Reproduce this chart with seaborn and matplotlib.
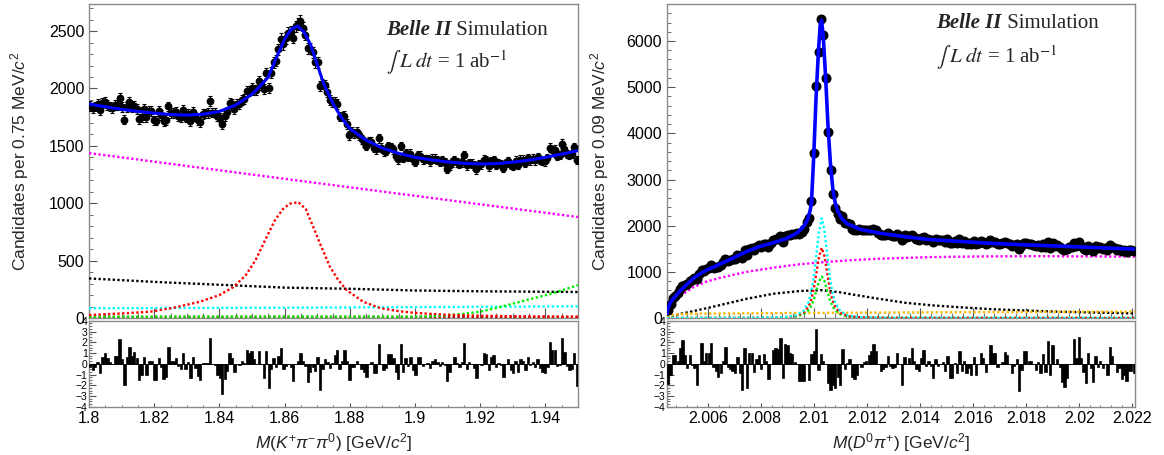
import numpy as np
import seaborn as sns
import matplotlib.pyplot as plt
from matplotlib.ticker import MultipleLocator, FuncFormatter

sns.set_style("ticks")
plt.rcParams["font.family"] = ["Liberation Sans", "DejaVu Sans"]
plt.rcParams["mathtext.fontset"] = "custom"
plt.rcParams["mathtext.rm"] = "Liberation Sans"
plt.rcParams["mathtext.it"] = "Liberation Sans:italic"
plt.rcParams["mathtext.bf"] = "Liberation Sans:bold"

# ---------------- left: M(K+ pi- pi0), 200 bins of 0.75 MeV ----------------
left_range = (1.80, 1.95)
left_counts = [
    1850, 1833, 1843, 1861, 1809, 1870, 1883, 1858, 1843, 1831,
    1857, 1854, 1920, 1835, 1729, 1838, 1878, 1837, 1851, 1823,
    1735, 1754, 1820, 1749, 1803, 1801, 1721, 1719, 1803, 1767,
    1718, 1725, 1843, 1786, 1785, 1792, 1761, 1748, 1810, 1747,
    1777, 1714, 1795, 1755, 1727, 1710, 1779, 1782, 1786, 1887,
    1790, 1790, 1756, 1746, 1691, 1758, 1796, 1877, 1864, 1817,
    1861, 1868, 1900, 1906, 1974, 1976, 2001, 1984, 1986, 2063,
    2031, 1995, 2133, 2004, 2138, 2227, 2242, 2343, 2434, 2387,
    2439, 2486, 2496, 2442, 2540, 2559, 2586, 2525, 2470, 2349,
    2348, 2316, 2227, 2227, 2020, 2039, 2032, 1970, 1900, 1882,
    1878, 1864, 1755, 1755, 1764, 1692, 1593, 1625, 1611, 1620,
    1592, 1557, 1530, 1501, 1538, 1535, 1482, 1471, 1566, 1485,
    1454, 1455, 1497, 1490, 1469, 1413, 1383, 1499, 1395, 1439,
    1407, 1433, 1382, 1363, 1418, 1415, 1383, 1386, 1387, 1365,
    1388, 1389, 1378, 1361, 1373, 1359, 1301, 1329, 1357, 1377,
    1357, 1340, 1357, 1418, 1329, 1353, 1345, 1329, 1295, 1342,
    1338, 1379, 1376, 1321, 1366, 1373, 1334, 1350, 1344, 1306,
    1352, 1369, 1334, 1325, 1372, 1334, 1381, 1380, 1349, 1396,
    1373, 1388, 1373, 1403, 1377, 1366, 1365, 1393, 1483, 1461,
    1465, 1412, 1420, 1520, 1475, 1430, 1419, 1428, 1490, 1376,
]
left_pulls = [
    -0.3, -0.6, -0.3, 0.2, -0.9, 0.6, 1.0, 0.5, 0.2, 0.0,
    0.7, 0.7, 2.3, 0.4, -2.0, 0.6, 1.6, 0.7, 1.1, 0.5,
    -1.5, -1.0, 0.6, -1.0, 0.3, 0.3, -1.5, -1.5, 0.5, -0.3,
    -1.4, -1.2, 1.6, 0.3, 0.3, 0.5, -0.2, -0.5, 1.0, -0.5,
    0.2, -1.3, 0.6, -0.4, -1.1, -1.5, 0.1, 0.1, 0.1, 2.4,
    0.0, -0.1, -1.0, -1.3, -2.8, -1.4, -0.7, 1.0, 0.5, -0.8,
    0.0, -0.1, 0.3, 0.1, 1.3, 1.0, 1.2, 0.4, 0.0, 1.2,
    0.0, -1.3, 1.2, -2.3, -0.5, 0.5, -0.3, 0.7, 1.5, -0.5,
    -0.2, 0.0, -0.3, -1.6, 0.0, 0.3, 1.0, 0.3, -0.2, -1.7,
    -0.8, -0.3, -0.7, 0.6, -2.4, -0.5, 0.4, 0.2, -0.4, 0.1,
    0.8, 1.3, -0.5, 0.3, 1.3, 0.3, -1.5, -0.3, -0.3, 0.3,
    0.0, -0.5, -0.8, -1.2, 0.0, 0.2, -0.9, -0.9, 1.8, 0.0,
    -0.6, -0.4, 0.9, 0.9, 0.5, -0.8, -1.4, 1.8, -0.8, 0.5,
    -0.2, 0.6, -0.6, -1.0, 0.6, 0.6, -0.2, 0.0, 0.1, -0.4,
    0.3, 0.4, 0.2, -0.2, 0.2, -0.1, -1.6, -0.8, 0.0, 0.6,
    0.1, -0.3, 0.2, 1.9, -0.5, 0.2, 0.0, -0.4, -1.3, 0.0,
    -0.1, 1.0, 0.9, -0.6, 0.6, 0.8, -0.3, 0.1, -0.1, -1.2,
    0.0, 0.4, -0.6, -0.9, 0.3, -0.8, 0.4, 0.3, -0.6, 0.6,
    -0.1, 0.2, -0.3, 0.4, -0.4, -0.8, -0.9, -0.3, 2.0, 1.3,
    1.3, -0.2, -0.1, 2.4, 1.1, -0.2, -0.6, -0.5, 1.0, -2.1,
]
# fit curves, position in MeV above 1.80 GeV
left_fit_mev = [0, 5, 10, 15, 20, 25, 30, 35, 40, 45, 50, 52.5, 55, 57.5, 60,
                62, 64, 66, 68, 70, 72, 75, 77.5, 80, 85, 90, 95, 100, 105,
                110, 115, 120, 125, 130, 135, 140, 145, 150]
left_fit = [1865, 1840, 1818, 1800, 1785, 1773, 1768, 1775, 1800, 1855, 1950,
            2020, 2100, 2270, 2430, 2515, 2545, 2490, 2380, 2210, 2040, 1860,
            1745, 1650, 1550, 1480, 1435, 1400, 1378, 1360, 1348, 1342, 1345,
            1358, 1375, 1400, 1428, 1458]
left_magenta_mev = [0, 50, 100, 150]
left_magenta = [1437, 1250, 1065, 880]
left_black_mev = [0, 20, 40, 60, 80, 100, 120, 150]
left_black = [345, 315, 290, 265, 255, 240, 233, 227]
left_cyan_mev = [0, 75, 150]
left_cyan = [85, 92, 102]
left_green_mev = [0, 100, 105, 110, 115, 120, 125, 130, 135, 140, 145, 150]
left_green = [12, 12, 15, 25, 37, 55, 88, 125, 162, 198, 240, 287]
left_darkred_mev = [0, 150]
left_darkred = [8, 8]
left_red_mev = [0, 10, 18.7, 26, 34, 40, 44.3, 48, 51, 54.5, 57, 59.5, 61.5,
                64.2, 66.5, 68.8, 71, 73.9, 76.5, 79, 84.1, 89.3, 95, 100,
                110, 120, 135, 150]
left_red = [26, 40, 55, 90, 142, 200, 270, 370, 500, 706, 850, 950, 995,
            1010, 950, 793, 640, 447, 330, 244, 142, 87, 60, 45, 28, 20, 14, 12]

# ---------------- right: M(D0 pi+), 196 bins of 0.09 MeV ----------------
right_range = (2.00445, 2.0221)
right_counts = [
    175, 312, 436, 487, 537, 626, 696, 711, 729, 807,
    827, 863, 850, 945, 1039, 1015, 1067, 1093, 1142, 1090,
    1102, 1109, 1144, 1210, 1281, 1234, 1252, 1270, 1285, 1365,
    1335, 1303, 1474, 1356, 1501, 1522, 1472, 1539, 1573, 1539,
    1609, 1600, 1546, 1616, 1684, 1708, 1720, 1778, 1642, 1786,
    1801, 1797, 1818, 1813, 1835, 1820, 1870, 1930, 2090, 2160,
    2525, 3570, 5020, 5755, 6470, 6125, 5200, 4035, 3210, 2695,
    2385, 2262, 2135, 2210, 2067, 2050, 2027, 1935, 1906, 1903,
    1928, 1902, 1908, 1903, 1912, 1916, 1932, 1898, 1842, 1807,
    1808, 1809, 1844, 1800, 1783, 1780, 1828, 1779, 1688, 1789,
    1757, 1772, 1808, 1750, 1711, 1697, 1740, 1766, 1697, 1714,
    1691, 1641, 1710, 1681, 1686, 1691, 1651, 1706, 1618, 1615,
    1671, 1627, 1710, 1628, 1666, 1614, 1631, 1604, 1665, 1597,
    1635, 1672, 1649, 1593, 1622, 1688, 1656, 1654, 1600, 1609,
    1615, 1649, 1635, 1600, 1562, 1588, 1610, 1492, 1565, 1635,
    1633, 1595, 1593, 1578, 1552, 1582, 1536, 1606, 1535, 1649,
    1523, 1628, 1559, 1573, 1544, 1487, 1464, 1498, 1548, 1546,
    1634, 1562, 1638, 1558, 1505, 1464, 1571, 1514, 1462, 1553,
    1512, 1534, 1504, 1518, 1477, 1576, 1539, 1510, 1477, 1490,
    1450, 1463, 1438, 1470, 1468, 1459,
]
right_pulls = [
    -1.9, -1.0, 0.8, 0.8, 0.3, 1.5, 2.2, 0.8, -0.4, 0.8,
    -0.1, -0.4, -2.0, 0.0, 1.9, 0.3, 1.0, 1.0, 1.9, -0.3,
    -0.7, -1.2, -0.9, 0.3, 1.6, -0.3, -0.5, -0.7, -0.9, 0.6,
    -0.9, -2.4, 1.5, -2.3, 1.0, 1.0, -0.8, 0.4, 0.8, -0.5,
    0.9, 0.3, -1.4, 0.0, 1.3, 1.5, 1.4, 2.4, -1.3, 1.8,
    1.7, 1.0, 0.9, 0.2, 0.0, -1.6, -1.6, -1.6, 0.0, -1.5,
    0.9, 1.2, 3.2, -0.6, 0.9, 0.3, 0.0, -1.8, -2.4, -2.0,
    -2.3, -1.2, -2.0, 1.4, -0.5, 0.1, 0.4, -1.2, -1.4, -1.0,
    0.0, -0.3, 0.2, 0.3, 0.8, 1.2, 1.8, 1.2, 0.0, -0.7,
    -0.5, -0.3, 0.7, -0.2, -0.4, -0.3, 1.0, 0.0, -2.0, 0.6,
    0.0, 0.5, 1.5, 0.3, -0.5, -0.7, 0.5, 1.3, -0.2, 0.3,
    -0.2, -1.3, 0.4, -0.2, 0.0, 0.2, -0.7, 0.7, -1.3, -1.3,
    0.1, -0.9, 1.2, -0.7, 0.3, -0.9, -0.4, -1.0, 0.6, -1.0,
    0.0, 1.0, 0.5, -0.8, 0.0, 1.7, 1.0, 1.0, -0.3, 0.0,
    0.2, 1.1, 0.8, 0.0, -0.9, -0.2, 0.4, -2.5, -0.6, 1.2,
    1.2, 0.3, 0.3, 0.0, -0.6, 0.2, -0.9, 0.9, -0.8, 2.1,
    -1.0, 1.7, 0.0, 0.4, -0.3, -1.7, -2.2, -1.3, 0.0, 0.0,
    2.3, 0.5, 2.5, 0.5, -0.8, -1.8, 1.0, -0.4, -1.7, 0.7,
    -0.3, 0.3, -0.4, 0.0, -1.0, 1.6, 0.7, 0.0, -0.8, -0.4,
    -1.4, -1.0, -1.6, -0.7, -0.7, -0.9,
]
# positions in MeV above 2.00445 GeV
right_fit_mev = [0, 0.05, 0.1, 0.2, 0.3, 0.5, 0.75, 1.0, 1.25, 1.5, 1.75, 2.0,
                 2.5, 3.0, 3.5, 4.0, 4.5, 4.9, 5.1, 5.2, 5.3, 5.4, 5.45, 5.535,
                 5.625, 5.715, 5.78, 5.83, 5.895, 5.985, 6.075, 6.165, 6.255,
                 6.345, 6.435, 6.6, 6.8, 7.3, 8.0, 8.5, 9.0, 9.8, 11.0, 12.3,
                 13.5, 14.8, 16.0, 17.65]
right_fit = [100, 220, 300, 400, 460, 590, 730, 860, 960, 1040, 1100, 1170,
             1300, 1440, 1550, 1630, 1720, 1840, 1950, 2020, 2130, 2330, 2500,
             3500, 4800, 5800, 6350, 6450, 6100, 5200, 4150, 3350, 2800, 2500,
             2320, 2150, 2040, 1920, 1840, 1800, 1760, 1705, 1660, 1616, 1585,
             1558, 1530, 1493]
right_magenta_mev = [0, 0.1, 0.25, 0.5, 1.0, 1.5, 2.0, 3.0, 4.0, 5.0, 6.0, 7.0,
                     8.0, 10.0, 12.0, 14.0, 16.0, 17.65]
right_magenta = [80, 260, 370, 480, 670, 790, 870, 1000, 1090, 1165, 1215,
                 1255, 1285, 1320, 1335, 1340, 1335, 1330]
right_black_mev = [0, 0.5, 1.0, 2.0, 3.0, 4.0, 5.0, 5.8, 6.5, 7.0, 8.0, 9.0,
                   10.0, 11.0, 12.3, 14.8, 17.65]
right_black = [30, 90, 150, 280, 416, 525, 585, 605, 560, 510, 416, 330, 275,
               235, 190, 136, 101]
right_orange_mev = [0, 0.3, 1.0, 5.0, 10.0, 17.65]
right_orange = [20, 80, 95, 110, 125, 140]
peak_center_mev = 5.84
peak_offsets = [-5.84, -2.5, -1.5, -1.0, -0.7, -0.5, -0.4, -0.3, -0.2, -0.1, 0,
                0.1, 0.2, 0.3, 0.4, 0.5, 0.7, 1.0, 1.5, 2.5, 11.81]
right_cyan = [2, 5, 15, 50, 150, 350, 560, 900, 1400, 1900, 2160,
              1900, 1400, 900, 560, 350, 150, 50, 15, 5, 2]
right_red = [1, 4, 12, 40, 110, 250, 400, 640, 990, 1340, 1520,
             1340, 990, 640, 400, 250, 110, 40, 12, 4, 1]
right_green = [1, 3, 10, 30, 80, 170, 260, 400, 600, 800, 900,
               800, 600, 400, 260, 170, 80, 30, 10, 3, 1]

DOT = (0, (1.0, 1.0))


def centers(lo, hi, n):
    return lo + (np.arange(n) + 0.5) * (hi - lo) / n


def mev(lo, vals):
    return lo + np.asarray(vals, dtype=float) / 1000.0


def curve(ax, x, y, color, lw=1.7, ls=DOT, z=3):
    sns.lineplot(x=x, y=y, ax=ax, color=color, lw=lw, linestyle=ls,
                 sort=False, estimator=None, zorder=z)


def style_axes(ax):
    for s in ax.spines.values():
        s.set_color("#8a8a8a")
        s.set_linewidth(1.0)
    ax.tick_params(which="both", direction="in", colors="#555555",
                   labelcolor="black", top=False, right=False)


fig = plt.figure(figsize=(11.64, 4.55), dpi=100)
axL = fig.add_axes([0.0765, 0.301, 0.420, 0.690])
axLp = fig.add_axes([0.0765, 0.106, 0.420, 0.189])
axR = fig.add_axes([0.573, 0.301, 0.402, 0.690])
axRp = fig.add_axes([0.573, 0.106, 0.402, 0.189])
fmt = FuncFormatter(lambda v, p: f"{v:g}")

# left top
lo, hi = left_range
xl = centers(lo, hi, len(left_counts))
yl = np.array(left_counts, dtype=float)
axL.errorbar(xl, yl, yerr=np.sqrt(yl), fmt="o", ms=4.6, color="black",
             elinewidth=0.8, capsize=1.3, capthick=0.8, zorder=4)
curve(axL, mev(lo, left_magenta_mev), left_magenta, "#ff00ff")
curve(axL, mev(lo, left_black_mev), left_black, "black")
curve(axL, mev(lo, left_cyan_mev), left_cyan, "#00ffff")
curve(axL, mev(lo, left_darkred_mev), left_darkred, "#aa0000")
curve(axL, mev(lo, left_green_mev), left_green, "#00ee00")
curve(axL, mev(lo, left_red_mev), left_red, "#ff0000")
curve(axL, mev(lo, left_fit_mev), left_fit, "#0000ff", lw=2.2, ls="-", z=5)
axL.set_xlim(lo, hi)
axL.set_ylim(0, 2735)
axL.yaxis.set_major_locator(MultipleLocator(500))
axL.yaxis.set_minor_locator(MultipleLocator(100))
axL.xaxis.set_major_locator(MultipleLocator(0.02))
axL.xaxis.set_minor_locator(MultipleLocator(0.005))
axL.set_ylabel(r"Candidates per 0.75 MeV/$c^2$", fontsize=12.5)

# left pulls
bw = (hi - lo) / len(left_pulls)
axLp.bar(xl, left_pulls, width=bw * 0.95, color="black", edgecolor="black",
         linewidth=0.5, zorder=3)
axLp.axhline(0, color="black", lw=0.6)
axLp.set_xlim(lo, hi)
axLp.xaxis.set_major_locator(MultipleLocator(0.02))
axLp.xaxis.set_minor_locator(MultipleLocator(0.005))
axLp.xaxis.set_major_formatter(fmt)
axLp.set_xlabel(r"$M(K^{+}\pi^{-}\pi^{0})$ [GeV/$c^{2}$]", fontsize=12.5)

# right top
lo, hi = right_range
xr = centers(lo, hi, len(right_counts))
yr = np.array(right_counts, dtype=float)
axR.errorbar(xr, yr, yerr=np.sqrt(yr), fmt="o", ms=6.2, color="black",
             elinewidth=0.8, capsize=0, zorder=4)
px = mev(lo, np.array(peak_offsets) + peak_center_mev)
curve(axR, mev(lo, right_magenta_mev), right_magenta, "#ff00ff")
curve(axR, mev(lo, right_black_mev), right_black, "black")
curve(axR, mev(lo, right_orange_mev), right_orange, "#ffbb00")
curve(axR, px, right_green, "#00ee00")
curve(axR, px, right_red, "#ff0000")
curve(axR, px, right_cyan, "#00ffff")
curve(axR, mev(lo, right_fit_mev), right_fit, "#0000ff", lw=2.6, ls="-", z=5)
axR.set_xlim(lo, hi)
axR.set_ylim(0, 6800)
axR.yaxis.set_major_locator(MultipleLocator(1000))
axR.yaxis.set_minor_locator(MultipleLocator(200))
axR.xaxis.set_major_locator(MultipleLocator(0.002))
axR.xaxis.set_minor_locator(MultipleLocator(0.0004))
axR.set_ylabel(r"Candidates per 0.09 MeV/$c^2$", fontsize=12.5)

# right pulls
bw = (hi - lo) / len(right_pulls)
axRp.bar(xr, right_pulls, width=bw * 0.95, color="black", edgecolor="black",
         linewidth=0.5, zorder=3)
axRp.axhline(0, color="black", lw=0.6)
axRp.set_xlim(lo, hi)
axRp.xaxis.set_major_locator(MultipleLocator(0.002))
axRp.xaxis.set_minor_locator(MultipleLocator(0.0004))
axRp.xaxis.set_major_formatter(fmt)
axRp.set_xlabel(r"$M(D^{0}\pi^{+})$ [GeV/$c^{2}$]", fontsize=12.5)

for ax, lx in ((axL, -0.118), (axR, -0.12)):
    style_axes(ax)
    ax.set_xlabel("")
    ax.tick_params(axis="x", labelbottom=False)
    ax.tick_params(axis="x", which="major", length=7)
    ax.tick_params(axis="x", which="minor", length=3.5)
    ax.tick_params(axis="y", which="major", length=6, labelsize=11.5)
    ax.tick_params(axis="y", which="minor", length=3)
    ax.yaxis.set_label_coords(lx, 0.5)

for ax in (axLp, axRp):
    style_axes(ax)
    ax.set_ylim(-4, 4)
    ax.yaxis.set_major_locator(MultipleLocator(1))
    ax.yaxis.set_minor_locator(MultipleLocator(0.25))
    ax.tick_params(axis="y", which="major", length=5, labelsize=7.5, pad=1)
    ax.tick_params(axis="y", which="minor", length=2.5)
    ax.tick_params(axis="x", which="major", length=3, labelsize=11.5, pad=3)
    ax.tick_params(axis="x", which="minor", length=1.5)
    ax.set_ylabel("")

# Belle II labels
for ax, (x0, y1, y2) in ((axL, (0.607, 0.917, 0.812)), (axR, (0.576, 0.939, 0.828))):
    t = ax.text(x0, y1, "Belle II", transform=ax.transAxes, fontsize=15,
                family="Liberation Serif", fontweight="bold", style="italic",
                va="center", ha="left")
    ax.annotate(" Simulation", xy=(1, 0), xycoords=t, va="bottom", ha="left",
                fontsize=15, family="Liberation Serif")
    ax.text(x0, y2, r"$\int\; L\; dt$ = 1 ab$^{-1}$", transform=ax.transAxes,
            fontsize=15, family="Liberation Serif", math_fontfamily="stix",
            va="center", ha="left")

fig.savefig("out.png", dpi=100)
